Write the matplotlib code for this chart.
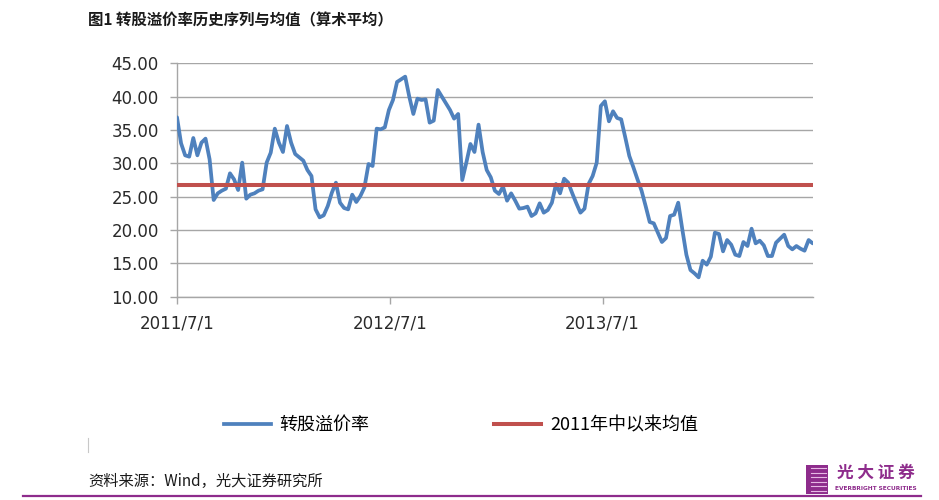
import matplotlib
matplotlib.use("Agg")
import matplotlib.pyplot as plt
import matplotlib.dates as mdates
from matplotlib.ticker import FuncFormatter, FormatStrFormatter
from matplotlib.lines import Line2D
from matplotlib.patches import Rectangle
import pandas as pd

# ---------------- data ----------------
title = "图1 转股溢价率历史序列与均值（算术平均）"
source_note = "资料来源：Wind，光大证券研究所"
series_name = "转股溢价率"
mean_name = "2011年中以来均值"

start_date = "2011-07-01"
freq = "7D"
premium = [
    36.9, 33.0, 31.2, 31.0, 33.8, 31.2, 33.1, 33.7, 30.6, 24.5,
    25.5, 25.9, 26.2, 28.5, 27.6, 26.0, 30.1, 24.7, 25.3, 25.5,
    25.9, 26.1, 30.1, 31.6, 35.2, 33.1, 31.7, 35.6, 33.1, 31.4,
    30.9, 30.4, 29.0, 28.1, 23.1, 21.9, 22.2, 23.6, 25.6, 27.1,
    24.1, 23.3, 23.1, 25.3, 24.2, 25.1, 26.4, 29.9, 29.6, 35.2,
    35.1, 35.4, 38.0, 39.5, 42.2, 42.6, 43.0, 40.0, 37.4, 39.7,
    39.5, 39.6, 36.1, 36.4, 41.0, 40.0, 39.0, 38.0, 36.7, 37.4,
    27.5, 30.1, 32.9, 31.7, 35.8, 31.7, 29.0, 27.9, 25.9, 25.4,
    26.5, 24.4, 25.5, 24.4, 23.2, 23.3, 23.5, 22.1, 22.5, 24.0,
    22.6, 23.0, 24.1, 26.9, 25.5, 27.7, 27.1, 25.5, 24.0, 22.6,
    23.2, 26.9, 28.1, 30.1, 38.6, 39.3, 36.3, 37.8, 36.8, 36.6,
    33.9, 31.1, 29.4, 27.6, 25.9, 23.6, 21.2, 21.0, 19.6, 18.2,
    18.8, 22.1, 22.3, 24.1, 20.1, 16.3, 14.0, 13.5, 12.9, 15.4,
    14.8, 16.0, 19.6, 19.4, 16.8, 18.5, 17.8, 16.3, 16.1, 18.2,
    17.6, 20.2, 18.0, 18.4, 17.7, 16.1, 16.1, 18.1, 18.7, 19.3,
    17.6, 17.1, 17.6, 17.2, 16.9, 18.5, 18.0,
]
mean_value = 26.75
xtick_dates = ["2011-07-01", "2012-07-01", "2013-07-01"]
yticks = [10, 15, 20, 25, 30, 35, 40, 45]

# ---------------- style ----------------
BLUE = "#4F81BD"
RED = "#C0504D"
GRID = "#A6A6A6"
PURPLE = "#8E2C8C"
CJK = ["Noto Sans CJK SC", "DejaVu Sans"]

fig = plt.figure(figsize=(9.39, 5.0), dpi=100)
fig.patch.set_facecolor("white")

W, H = 939.0, 500.0
ax = fig.add_axes([177 / W, 1 - 296.7 / H, (812.7 - 177) / W, (296.7 - 63.3) / H])

dates = pd.date_range(start_date, periods=len(premium), freq=freq)
ax.plot(dates, premium, color=BLUE, lw=2.7, solid_joinstyle="round",
        solid_capstyle="round", zorder=3)
ax.axhline(mean_value, color=RED, lw=2.9, zorder=4)

ax.set_ylim(yticks[0], yticks[-1])
ax.set_yticks(yticks)
ax.yaxis.set_major_formatter(FormatStrFormatter("%.2f"))
ax.set_xlim(dates[0], dates[-1])
ax.set_xticks(pd.to_datetime(xtick_dates))
ax.xaxis.set_major_formatter(FuncFormatter(
    lambda v, p: (lambda d: f"{d.year}/{d.month}/{d.day}")(mdates.num2date(v))))

ax.grid(axis="y", color=GRID, lw=1.0, zorder=1)
ax.set_axisbelow(True)
for s in ["top", "right"]:
    ax.spines[s].set_visible(False)
for s in ["left", "bottom"]:
    ax.spines[s].set_color(GRID)
    ax.spines[s].set_linewidth(1.0)
ax.tick_params(axis="both", direction="out", length=5, width=1.0, color=GRID,
               labelsize=12, labelcolor="#2a2a2a")
ax.tick_params(axis="y", pad=8)
ax.tick_params(axis="x", pad=8)
for lab in ax.get_xticklabels() + ax.get_yticklabels():
    lab.set_fontfamily("DejaVu Sans")

# legend
handles = [Line2D([], [], color=BLUE, lw=2.7), Line2D([], [], color=RED, lw=2.9)]
fig.legend(handles, [series_name, mean_name], loc="center",
           bbox_to_anchor=(461 / W, 1 - 425 / H), ncol=2, frameon=False,
           prop={"family": CJK, "size": 13}, handlelength=2.6,
           handletextpad=0.5, columnspacing=6.9, borderpad=0)

# title
fig.text(88 / W, 1 - 20 / H, title, fontsize=11.1, fontweight="bold",
         family=CJK, va="center", ha="left", color="#1a1a1a")

# source note
fig.text(88 / W, 1 - 481 / H, source_note, fontsize=11, family=CJK,
         va="center", ha="left", color="#1a1a1a")

# faint box edge bottom-left
fig.add_artist(Line2D([88 / W, 88 / W], [1 - 438 / H, 1 - 452 / H],
                      color="#C8C8C8", lw=0.8))

# purple bottom rule
fig.add_artist(Line2D([23 / W, 921 / W], [1 - 496 / H, 1 - 496 / H],
                      color=PURPLE, lw=1.6))

# logo
fig.add_artist(Rectangle((806 / W, 1 - 494 / H), 22 / W, 29 / H,
                         transform=fig.transFigure, color=PURPLE, lw=0))
for i in range(6):
    yy = 468 + i * 4.5
    fig.add_artist(Line2D([811 / W, 826 / W], [1 - yy / H, 1 - yy / H],
                          color="#E6B8E4", lw=0.8))
fig.text(876 / W, 1 - 473 / H, "光 大 证 券", fontsize=12, fontweight="bold",
         family=CJK, color=PURPLE, ha="center", va="center")
fig.text(876 / W, 1 - 489 / H, "EVERBRIGHT SECURITIES", fontsize=4.2,
         fontweight="bold", family="DejaVu Sans", color=PURPLE,
         ha="center", va="center")

fig.savefig("out.png", dpi=100)
